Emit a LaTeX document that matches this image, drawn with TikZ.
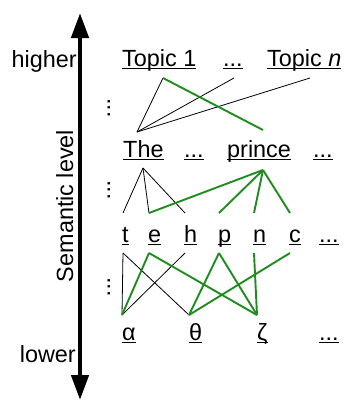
\documentclass[tikz,border=0pt]{standalone}
\usepackage{fontspec}
\setmainfont{Liberation Sans}
\usepackage{xcolor}
\definecolor{lnk}{HTML}{1E8C1E}
\definecolor{thin}{HTML}{333333}
\usetikzlibrary{calc,arrows.meta}
% fixed-depth underline, as a word processor draws it
\newcommand{\undr}[1]{\setbox0\hbox{#1}\rlap{\rule[-3bp]{\wd0}{1.3bp}}\box0}

\begin{document}
\begin{tikzpicture}[x=1bp,y=-1bp,font=\fontsize{23.5}{28}\selectfont,
  word/.style={anchor=base west,inner sep=0pt},
  vdts/.style={rotate=-90,inner sep=0pt},
  plain/.style={thin,line width=0.8bp},
  hit/.style={lnk,line width=1.9bp}]
  \useasboundingbox (0,0) rectangle (345,401);
  % level axis
  \coordinate (top) at (80,13);
  \coordinate (bot) at (80,400);
  \draw[line width=4.5bp,{Triangle[length=25bp,width=17bp]}-{Triangle[length=25bp,width=17bp]}] (bot) -- (top);
  \node[anchor=base east,inner sep=0pt] (hi) at (77,67) {higher};
  \node[anchor=base east,inner sep=0pt] (lo) at (76,362) {lower};
  \node[rotate=90,anchor=base,inner sep=0pt] (sem) at (73,206) {Semantic level};
  % topics
  \node[word] (tpa) at (122,66) {\undr{Topic 1}};
  \node[word] (tpd) at (223,66) {\undr{...}};
  \node[word] (tpn) at (267,66) {\undr{Topic \textit{n}}};
  % words
  \node[word] (the) at (123,157) {\undr{The}};
  \node[word] (wda) at (184,157) {\undr{...}};
  \node[word] (prc) at (227,157) {\undr{prince}};
  \node[word] (wdb) at (313,157) {\undr{...}};
  % characters
  \node[word] (ct) at (122,242) {\undr{t}};
  \node[word] (ce) at (148,242) {\undr{e}};
  \node[word] (ch) at (184,242) {\undr{h}};
  \node[word] (cp) at (218,242) {\undr{p}};
  \node[word] (cn) at (253,242) {\undr{n}};
  \node[word] (cc) at (289,242) {\undr{c}};
  \node[word] (cd) at (319,242) {\undr{...}};
  % symbols
  \node[word] (ga) at (122,340) {\undr{α}};
  \node[word] (gb) at (189,340) {\undr{θ}};
  \node[word] (gc) at (257,340) {\undr{ζ}};
  \node[word] (gd) at (319,340) {\undr{...}};
  % dots between levels
  \node[vdts] (va) at (109,108) {...};
  \node[vdts] (vb) at (109,190) {...};
  \node[vdts] (vc) at (109,287) {...};
  % end points of the links
  \coordinate (tpa-d) at ($(tpa.base west)+(41,12)$);
  \coordinate (tpd-d) at ($(tpd.base west)+(11,12)$);
  \coordinate (tpn-d) at ($(tpn.base west)+(43,12)$);
  \coordinate (the-u) at ($(the.base west)+(14,-25)$);
  \coordinate (the-d) at ($(the.base west)+(20,11)$);
  \coordinate (prc-u) at ($(prc.base west)+(36,-27)$);
  \coordinate (prc-d) at ($(prc.base west)+(36,13)$);
  \foreach \n in {ct,ce,ch,cp,cn,cc} {
    \coordinate (\n-u) at ($(\n.base west)+(1,-29)$);
    \coordinate (\n-d) at ($(\n.base west)+(1,11)$);
  }
  \foreach \n in {ga,gb,gc} \coordinate (\n-u) at ($(\n.base west)+(0,-25)$);
  % links
  \foreach \a/\b in {tpa/the,tpd/the,tpn/the,the/ct,the/ce,the/ch,ct/ga,ct/gb,ch/ga}
    \draw[plain] (\a-d) -- (\b-u);
  \foreach \a/\b in {tpa/prc,prc/ce,prc/cp,prc/cn,prc/cc,ce/ga,ce/gc,cp/gb,cp/gc,cn/gc,cc/gb}
    \draw[hit] (\a-d) -- (\b-u);
\end{tikzpicture}
\end{document}
